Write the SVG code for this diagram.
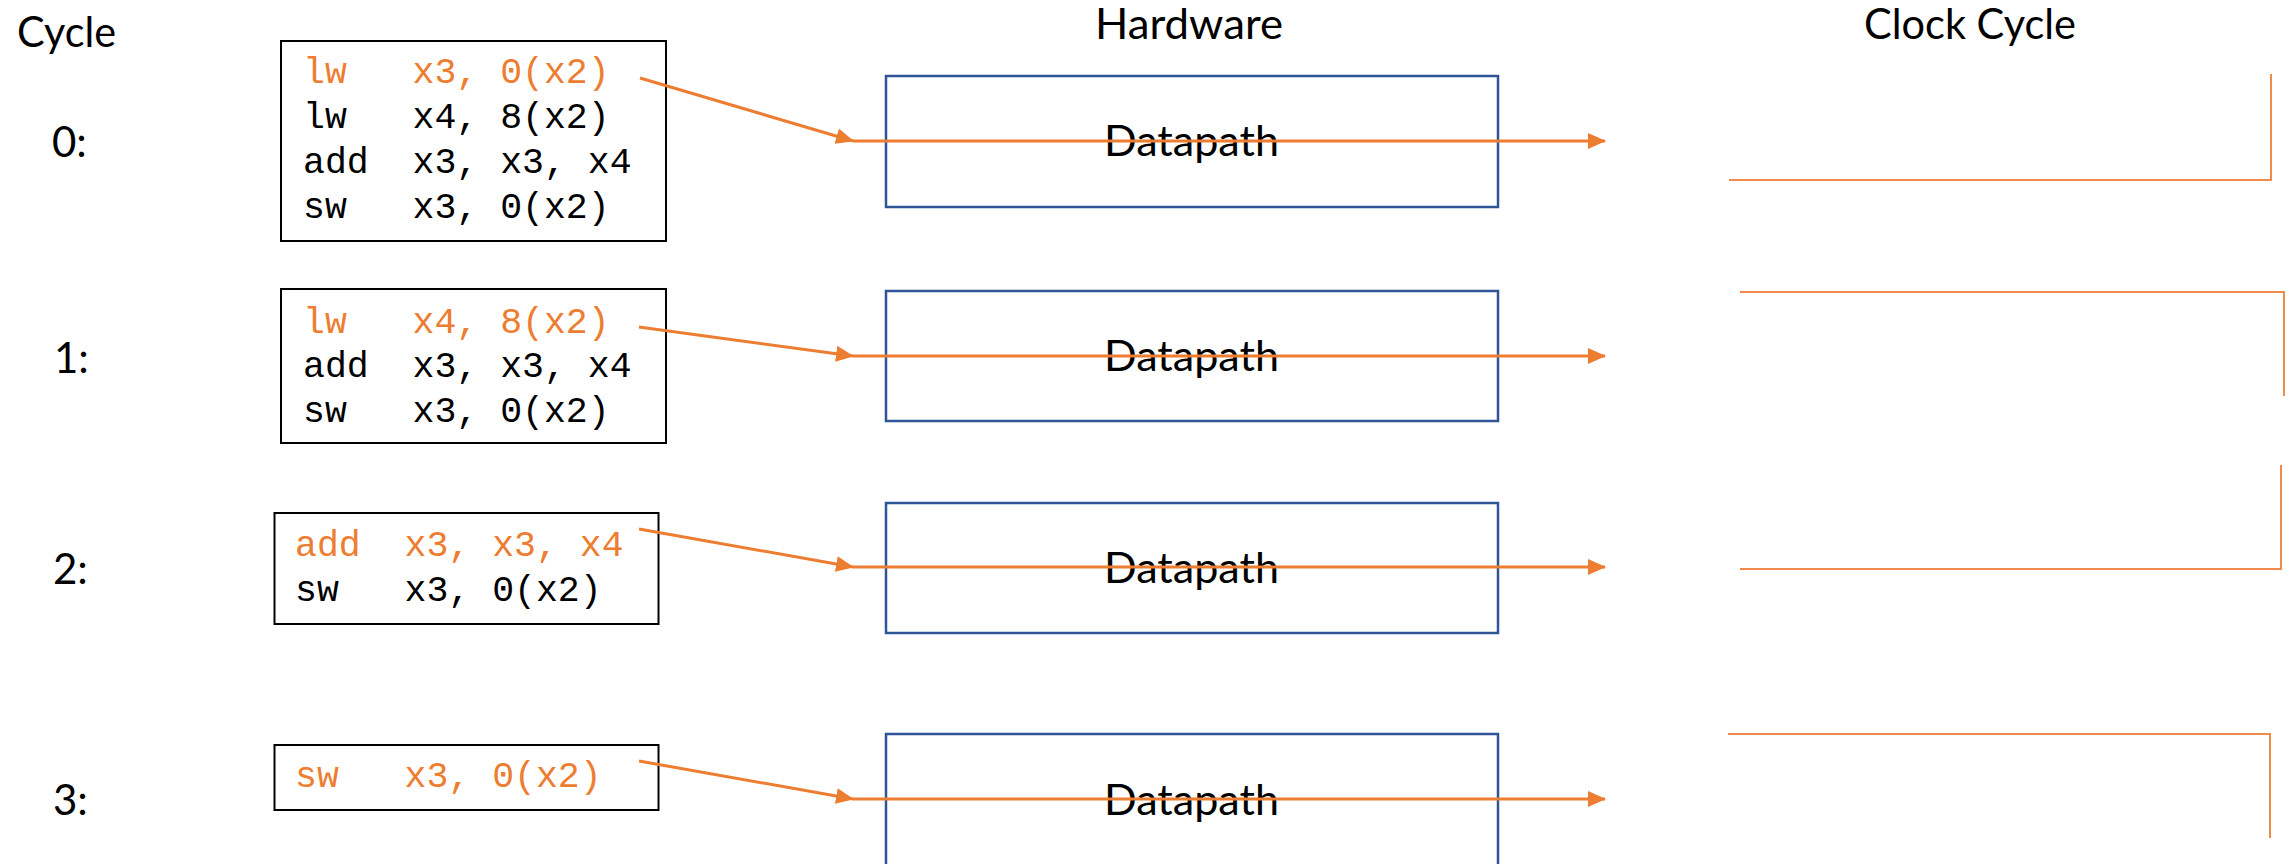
<svg xmlns="http://www.w3.org/2000/svg" width="2295" height="864" viewBox="0 0 2295 864">
  <style>
    .title { font-family: Lato, "Liberation Sans", sans-serif; font-size: 42px; fill: #000; }
    .code { font-family: "Liberation Mono", "DejaVu Sans Mono", monospace; font-size: 36.5px; fill: #000; white-space: pre; }
    .hot { fill: #ED7D31; }
    .codebox { fill: #fff; stroke: #000; stroke-width: 2; }
    .hw { fill: none; stroke: #2F5597; stroke-width: 2.5; }
    .wire { fill: none; stroke: #ED7D31; stroke-width: 3; }
    .clk { fill: none; stroke: #F08A4B; stroke-width: 2; }
  </style>
  <defs>
    <marker id="tri" markerUnits="userSpaceOnUse" markerWidth="18" markerHeight="16" refX="17" refY="8" orient="auto">
      <path d="M0,0 L18,8 L0,16 Z" fill="#ED7D31"/>
    </marker>
  </defs>
  <rect width="2295" height="864" fill="#fff"/>

  <!-- column headings -->
  <g id="headings">
    <text class="title" x="17" y="47" textLength="99" lengthAdjust="spacingAndGlyphs">Cycle</text>
    <text class="title" x="1095" y="39" textLength="188" lengthAdjust="spacingAndGlyphs">Hardware</text>
    <text class="title" x="1864" y="39" textLength="212" lengthAdjust="spacingAndGlyphs">Clock Cycle</text>
  </g>

  <!-- cycle numbers -->
  <g id="cycle-labels">
    <text class="title" x="52" y="157">0:</text>
    <text class="title" x="54" y="373">1:</text>
    <text class="title" x="53" y="584">2:</text>
    <text class="title" x="53" y="815">3:</text>
  </g>

  <!-- instruction queues -->
  <g id="code0">
    <rect class="codebox" x="281" y="41" width="385" height="200"/>
    <text class="code hot" x="303" y="83">lw   x3, 0(x2)</text>
    <text class="code" x="303" y="128">lw   x4, 8(x2)</text>
    <text class="code" x="303" y="173">add  x3, x3, x4</text>
    <text class="code" x="303" y="218">sw   x3, 0(x2)</text>
  </g>
  <g id="code1">
    <rect class="codebox" x="281" y="289" width="385" height="154"/>
    <text class="code hot" x="303" y="333">lw   x4, 8(x2)</text>
    <text class="code" x="303" y="377">add  x3, x3, x4</text>
    <text class="code" x="303" y="422">sw   x3, 0(x2)</text>
  </g>
  <g id="code2">
    <rect class="codebox" x="274.5" y="513" width="384" height="111"/>
    <text class="code hot" x="295" y="556">add  x3, x3, x4</text>
    <text class="code" x="295" y="601">sw   x3, 0(x2)</text>
  </g>
  <g id="code3">
    <rect class="codebox" x="274.5" y="745" width="384" height="65"/>
    <text class="code hot" x="295" y="787">sw   x3, 0(x2)</text>
  </g>

  <!-- datapath blocks -->
  <g id="datapath0">
    <rect class="hw" x="886" y="76" width="612" height="131"/>
    <text class="title" x="1104" y="156" textLength="175" lengthAdjust="spacingAndGlyphs">Datapath</text>
  </g>
  <g id="datapath1">
    <rect class="hw" x="886" y="291" width="612" height="130"/>
    <text class="title" x="1104" y="371" textLength="175" lengthAdjust="spacingAndGlyphs">Datapath</text>
  </g>
  <g id="datapath2">
    <rect class="hw" x="886" y="503" width="612" height="130"/>
    <text class="title" x="1104" y="583" textLength="175" lengthAdjust="spacingAndGlyphs">Datapath</text>
  </g>
  <g id="datapath3">
    <rect class="hw" x="886" y="734" width="612" height="132"/>
    <text class="title" x="1104" y="815" textLength="175" lengthAdjust="spacingAndGlyphs">Datapath</text>
  </g>

  <!-- clock waveform segments -->
  <g id="clock">
    <path class="clk" d="M1729,180 H2271 V74"/>
    <path class="clk" d="M1740,292 H2284 V396"/>
    <path class="clk" d="M1740,569 H2281 V465"/>
    <path class="clk" d="M1728,734 H2270 V838"/>
  </g>

  <!-- instruction flow -->
  <g id="connectors">
    <line class="wire" x1="640" y1="78" x2="853" y2="141" marker-end="url(#tri)"/>
    <line class="wire" x1="853" y1="141" x2="1605" y2="141" marker-end="url(#tri)"/>
    <line class="wire" x1="639" y1="327" x2="853" y2="356" marker-end="url(#tri)"/>
    <line class="wire" x1="853" y1="356" x2="1605" y2="356" marker-end="url(#tri)"/>
    <line class="wire" x1="639" y1="529" x2="853" y2="567" marker-end="url(#tri)"/>
    <line class="wire" x1="853" y1="567" x2="1605" y2="567" marker-end="url(#tri)"/>
    <line class="wire" x1="639" y1="761" x2="853" y2="799" marker-end="url(#tri)"/>
    <line class="wire" x1="853" y1="799" x2="1605" y2="799" marker-end="url(#tri)"/>
  </g>
</svg>
